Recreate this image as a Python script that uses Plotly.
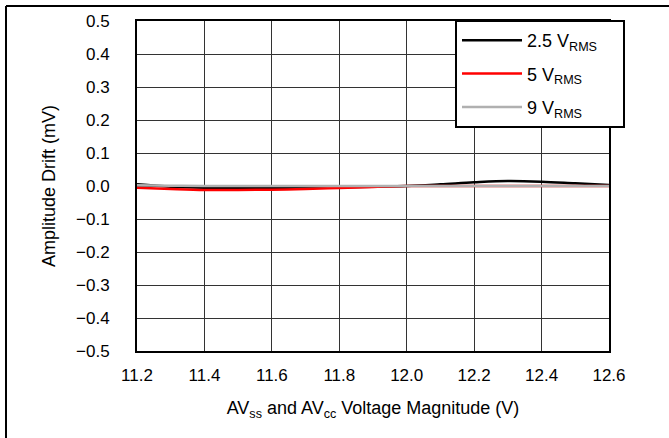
import plotly.graph_objects as go

x_vals = [11.2, 11.3, 11.4, 11.5, 11.6, 11.7, 11.8, 11.9, 12.0, 12.1, 12.2, 12.3, 12.4, 12.5, 12.6]
v25 = [0.005, -0.002, -0.005, -0.006, -0.006, -0.005, -0.004, -0.002, 0.0, 0.005, 0.011, 0.015, 0.013, 0.008, 0.003]
v5 = [-0.005, -0.009, -0.012, -0.012, -0.011, -0.009, -0.006, -0.003, 0.0, 0.0, 0.0, 0.0, 0.0, 0.0, 0.0]
v9 = [0.002, 0.001, 0.0, 0.0, 0.0, 0.0, 0.0, 0.0, 0.0, 0.0, 0.0, 0.0, 0.0, 0.0, 0.0]
names = ["2.5 V<sub>RMS</sub>", "5 V<sub>RMS</sub>", "9 V<sub>RMS</sub>"]
colors = ["#000000", "#ff0000", "#b0b0b0"]
x_ticks = [11.2, 11.4, 11.6, 11.8, 12.0, 12.2, 12.4, 12.6]
y_ticks = [0.5, 0.4, 0.3, 0.2, 0.1, 0.0, -0.1, -0.2, -0.3, -0.4, -0.5]

PAD = "\u00a0" * 4

fig = go.Figure()
for i, ys in enumerate([v25, v5, v9]):
    fig.add_trace(go.Scatter(x=x_vals, y=ys, mode="lines", name=names[i] + PAD,
                             line=dict(color=colors[i], width=2.5, shape="spline"),
                             legendgroup=str(i)))

W, H = 669, 438
L, R, T, B = 137, 609, 21, 351
def px(xp):
    return (xp - L) / (R - L)
def py(yp):
    return (B - yp) / (B - T)

fig.update_layout(
    width=W, height=H,
    margin=dict(l=L, r=W - R, t=T, b=H - B),
    paper_bgcolor="white", plot_bgcolor="white",
    font=dict(family="Liberation Sans, Arial, sans-serif", size=17, color="#000"),
    showlegend=True,
    legend=dict(x=px(455), y=py(20), xanchor="left", yanchor="top",
                bordercolor="#000", borderwidth=2, bgcolor="white",
                font=dict(size=18), tracegroupgap=7, traceorder="grouped",
                itemwidth=60),
    xaxis=dict(range=[11.2, 12.6], tickvals=x_ticks, ticktext=[f"{v:.1f}" for v in x_ticks],
               showgrid=True, gridcolor="#333", gridwidth=1, zeroline=False,
               showline=True, linecolor="#000", linewidth=2, mirror=True, ticks="",
               ticklabelstandoff=8, tickfont=dict(size=17),
               title=dict(text="AV<sub>ss</sub> and AV<sub>cc</sub> Voltage Magnitude (V)",
                          font=dict(size=18), standoff=17)),
    yaxis=dict(range=[-0.5, 0.5], tickvals=y_ticks,
               ticktext=[("\u2212" if v < 0 else "") + f"{abs(v):.1f}" for v in y_ticks],
               showgrid=True, gridcolor="#333", gridwidth=1, zeroline=False,
               showline=True, linecolor="#000", linewidth=2, mirror=True, ticks="",
               ticklabelstandoff=22, tickfont=dict(size=17),
               title=dict(text="Amplitude Drift (mV)", font=dict(size=18), standoff=16)),
    shapes=[
        dict(type="line", xref="paper", yref="paper", x0=px(6), x1=px(669), y0=py(6), y1=py(6),
             line=dict(color="#000", width=2)),
        dict(type="line", xref="paper", yref="paper", x0=px(6), x1=px(6), y0=py(6), y1=py(438),
             line=dict(color="#000", width=2)),
    ],
)
fig.write_html("out.html", config={"displayModeBar": False},
               post_script="document.body.style.margin='0';document.body.style.padding='0';")
